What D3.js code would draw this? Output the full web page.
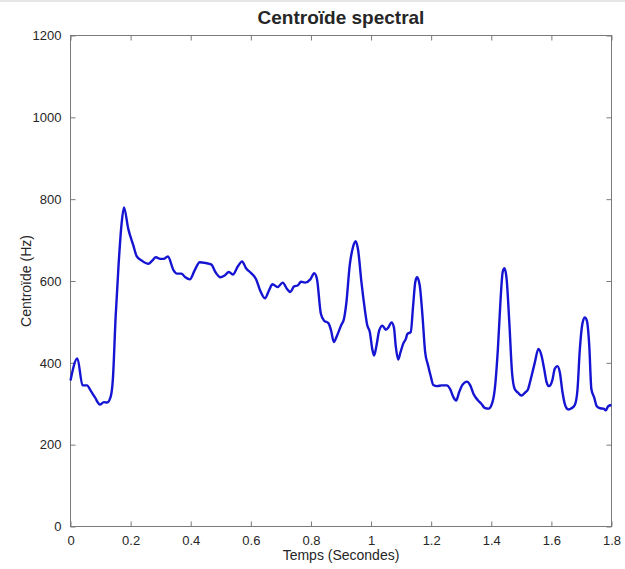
<!DOCTYPE html>
<html>
<head>
<meta charset="utf-8">
<script src="https://cdn.jsdelivr.net/npm/d3@7"></script>
<style>
  html, body { margin: 0; padding: 0; background: #fff; }
  svg { display: block; }
  text { font-family: "Liberation Sans", Arial, Helvetica, sans-serif; fill: #262626; }
</style>
</head>
<body>
<div id="chart"></div>
<script>
// Time (s) of traced points
const times = [0, 0.023, 0.04, 0.055, 0.067, 0.081, 0.098, 0.111, 0.122, 0.134, 0.141, 0.15, 0.16, 0.17, 0.178,
  0.192, 0.209, 0.22, 0.237, 0.259, 0.272, 0.284, 0.298, 0.31, 0.324, 0.343, 0.354, 0.369, 0.382, 0.397,
  0.413, 0.43, 0.449, 0.469, 0.482, 0.499, 0.512, 0.527, 0.54, 0.557, 0.571, 0.584, 0.6, 0.617, 0.631,
  0.647, 0.661, 0.672, 0.689, 0.706, 0.72, 0.731, 0.744, 0.756, 0.767, 0.78, 0.798, 0.811, 0.82, 0.833,
  0.844, 0.858, 0.867, 0.876, 0.887, 0.9, 0.91, 0.918, 0.929, 0.94, 0.949, 0.957, 0.968, 0.979, 0.987,
  0.996, 1.004, 1.01, 1.018, 1.027, 1.038, 1.049, 1.058, 1.068, 1.076, 1.082, 1.09, 1.098, 1.107, 1.116,
  1.121, 1.132, 1.14, 1.147, 1.153, 1.162, 1.171, 1.18, 1.19, 1.198, 1.207, 1.22, 1.235, 1.252, 1.263,
  1.274, 1.283, 1.293, 1.304, 1.319, 1.33, 1.341, 1.356, 1.367, 1.378, 1.391, 1.404, 1.413, 1.422, 1.431,
  1.438, 1.444, 1.451, 1.46, 1.469, 1.478, 1.489, 1.5, 1.513, 1.522, 1.529, 1.537, 1.544, 1.557, 1.567,
  1.576, 1.584, 1.592, 1.603, 1.611, 1.62, 1.628, 1.637, 1.646, 1.656, 1.667, 1.678, 1.687, 1.694, 1.703,
  1.711, 1.718, 1.726, 1.733, 1.742, 1.751, 1.762, 1.773, 1.781, 1.789, 1.8];
// Spectral centroid (Hz) at those times
const centroid = [357, 411, 345, 345, 332, 316, 298, 304, 303, 318, 360, 510, 640, 740, 780,
  728, 687, 661, 650, 642, 650, 658, 654, 654, 660, 626, 618, 618, 609, 604,
  626, 646, 644, 640, 622, 609, 613, 622, 616, 636, 648, 631, 620, 605, 577,
  558, 578, 592, 585, 596, 581, 573, 587, 589, 598, 596, 604, 619, 605, 520,
  503, 497, 479, 451, 467, 491, 508, 548, 638, 683, 697, 675, 597, 532, 493,
  475, 434, 418, 442, 479, 491, 481, 487, 499, 487, 442, 408, 426, 447, 459,
  471, 475, 540, 597, 609, 589, 516, 426, 393, 369, 346, 343, 345, 345, 336,
  316, 308, 328, 346, 354, 345, 324, 308, 300, 290, 288, 304, 345, 434, 556,
  622, 631, 605, 499, 377, 336, 327, 320, 328, 335, 353, 377, 398, 434, 418,
  385, 353, 343, 357, 385, 392, 377, 328, 296, 286, 289, 297, 336, 426, 495,
  511, 503, 442, 336, 316, 294, 289, 288, 284, 294, 297];

const xTicks = [0, 0.2, 0.4, 0.6, 0.8, 1, 1.2, 1.4, 1.6, 1.8];
const yTicks = [0, 200, 400, 600, 800, 1000, 1200];

const W = 625, H = 569;
const m = { left: 70.5, right: 611.5, top: 35.5, bottom: 526.5 };
const pw = m.right - m.left, ph = m.bottom - m.top;

const svg = d3.select("#chart").append("svg").attr("width", W).attr("height", H);

// faint screen edge at the very top of the reference
svg.append("rect").attr("x", 0).attr("y", 0).attr("width", W).attr("height", 2).attr("fill", "#e6e6e6");

const x = d3.scaleLinear().domain([0, 1.8]).range([m.left, m.right]);
const y = d3.scaleLinear().domain([0, 1200]).range([m.bottom, m.top]);

const axisColor = "#7a7a7a";

// frame
svg.append("rect").attr("x", m.left).attr("y", m.top).attr("width", pw).attr("height", ph)
  .attr("fill", "none").attr("stroke", axisColor).attr("stroke-width", 1);

const tickLen = 5;
const fmt = d => String(d);
const gx = svg.append("g").attr("transform", `translate(0,${m.bottom})`)
  .call(d3.axisBottom(x).tickValues(xTicks).tickSizeInner(-tickLen).tickSizeOuter(0).tickPadding(9).tickFormat(fmt));
const gxt = svg.append("g").attr("transform", `translate(0,${m.top})`)
  .call(d3.axisTop(x).tickValues(xTicks).tickSizeInner(-tickLen).tickSizeOuter(0).tickFormat(""));
const gy = svg.append("g").attr("transform", `translate(${m.left},0)`)
  .call(d3.axisLeft(y).tickValues(yTicks).tickSizeInner(-tickLen).tickSizeOuter(0).tickPadding(9).tickFormat(fmt));
const gyr = svg.append("g").attr("transform", `translate(${m.right},0)`)
  .call(d3.axisRight(y).tickValues(yTicks).tickSizeInner(-tickLen).tickSizeOuter(0).tickFormat(""));

[gx, gxt, gy, gyr].forEach(g => {
  g.select(".domain").remove();
  g.selectAll(".tick line").attr("stroke", axisColor);
  g.selectAll("text").attr("font-size", 13).attr("fill", "#262626")
    .style("font-family", "'Liberation Sans', Arial, sans-serif");
});

// line
const pts = times.map((t, i) => [t, centroid[i]]);
const line = d3.line().x(d => x(d[0])).y(d => y(d[1])).curve(d3.curveMonotoneX);
svg.append("path").datum(pts).attr("d", line)
  .attr("fill", "none").attr("stroke", "#1414d2").attr("stroke-width", 2.4)
  .attr("stroke-linejoin", "round");

// title
svg.append("text").attr("x", (m.left + m.right) / 2).attr("y", 24).attr("text-anchor", "middle")
  .attr("font-size", 19).attr("font-weight", "bold").attr("fill", "#000").text("Centroïde spectral");

// axis labels
svg.append("text").attr("x", (m.left + m.right) / 2).attr("y", 560).attr("text-anchor", "middle")
  .attr("font-size", 14).text("Temps (Secondes)");
svg.append("text").attr("transform", `translate(31,${(m.top + m.bottom) / 2}) rotate(-90)`)
  .attr("text-anchor", "middle").attr("font-size", 14).text("Centroïde (Hz)");
</script>
</body>
</html>
